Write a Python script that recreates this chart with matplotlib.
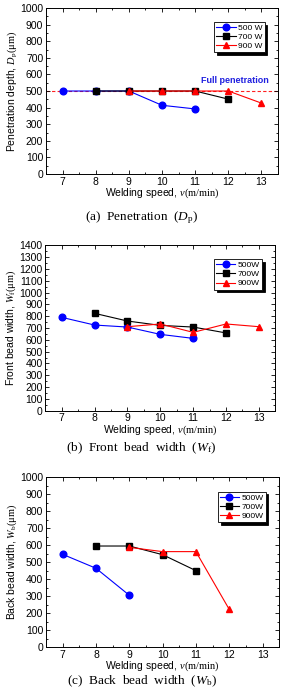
import matplotlib
matplotlib.use('Agg')
import matplotlib.pyplot as plt
from matplotlib.ticker import MultipleLocator

plt.rcParams['font.family'] = ['Liberation Sans', 'DejaVu Sans']
plt.rcParams['mathtext.fontset'] = 'custom'
plt.rcParams['mathtext.rm'] = 'Liberation Serif'
plt.rcParams['mathtext.it'] = 'Liberation Serif:italic'

powers = ['500W', '700W', '900W']
colors = ['#0000ff', '#000000', '#ff0000']
markers = ['o', 's', '^']

# (a) penetration depth
pen_x = [[7, 8, 9, 10, 11], [8, 9, 10, 11, 12], [9, 10, 11, 12, 13]]
pen_y = [[500, 500, 500, 414, 392], [500, 500, 500, 500, 451], [500, 500, 500, 500, 427]]
full_pen = 500

# (b) front bead width
front_x = [[7, 8, 9, 10, 11], [8, 9, 10, 11, 12], [9, 10, 11, 12, 13]]
front_y = [[790, 725, 708, 646, 612], [824, 759, 722, 708, 658], [711, 734, 663, 734, 711]]

# (c) back bead width
back_x = [[7, 8, 9], [8, 9, 10, 11], [9, 10, 11, 12]]
back_y = [[546, 464, 305], [595, 595, 544, 450], [587, 562, 562, 222]]

fig = plt.figure(figsize=(2.83, 6.90), dpi=100)

panels = [
    dict(pos=[0.1625, 0.7478, 0.82, 0.2406], xs=pen_x, ys=pen_y, ymax=1000,
         ylabel='Penetration depth, $\\mathit{D}_\\mathrm{p}$$\\mathrm{(μm)}$',
         caption='(a)  Penetration  ($\\mathit{D}_\\mathrm{p}$)', cap_y=0.684, cap_va='center',
         legend_labels=['500 W', '700 W', '900 W']),
    dict(pos=[0.160, 0.4048, 0.813, 0.2397], xs=front_x, ys=front_y, ymax=1400,
         ylabel='Front bead width, $\\mathit{W}_\\mathrm{f}$$\\mathrm{(μm)}$',
         caption='(b)  Front  bead  width  ($\\mathit{W}_\\mathrm{f}$)', cap_y=0.350, cap_va='center',
         legend_labels=powers),
    dict(pos=[0.1625, 0.0623, 0.824, 0.246], xs=back_x, ys=back_y, ymax=1000,
         ylabel='Back bead width, $\\mathit{W}_\\mathrm{b}$$\\mathrm{(μm)}$',
         caption='(c)  Back  bead  width  ($\\mathit{W}_\\mathrm{b}$)', cap_y=0.002, cap_va='bottom',
         legend_labels=powers),
]

for k, p in enumerate(panels):
    ax = fig.add_axes(p['pos'])
    if k == 0:
        ax.axhline(full_pen, color='#ff2020', ls='--', lw=0.8, dashes=(3, 2), zorder=1)
        ax.text(12.2, 566, 'Full penetration', color='#2020e0', fontsize=6.5,
                fontweight='bold', ha='center', va='center')
    for xs, ys, c, m, lab in zip(p['xs'], p['ys'], colors, markers, p['legend_labels']):
        ax.plot(xs, ys, color=c, marker=m, markersize=4.8, lw=0.8, label=lab,
                markeredgecolor=c, zorder=3)
    ax.set_xlim(6.5, 13.5)
    ax.set_ylim(0, p['ymax'])
    ax.xaxis.set_major_locator(MultipleLocator(1))
    ax.xaxis.set_minor_locator(MultipleLocator(0.5))
    ax.yaxis.set_major_locator(MultipleLocator(100))
    ax.yaxis.set_minor_locator(MultipleLocator(50))
    ax.tick_params(which='both', direction='in', top=True, right=True, labelsize=7.5,
                   width=0.6, pad=2)
    ax.tick_params(which='major', length=3)
    ax.tick_params(which='minor', length=1.5)
    for s in ax.spines.values():
        s.set_linewidth(0.7)
    ax.set_xlabel('Welding speed, $\\mathit{v}\\mathrm{(m/min)}$', fontsize=7.5, labelpad=0)
    ax.set_ylabel(p['ylabel'], fontsize=7.5, labelpad=1)
    leg = ax.legend(loc='upper right', fontsize=6, frameon=True, fancybox=False,
                    edgecolor='black', shadow={'color': 'black', 'alpha': 1},
                    borderpad=0.25, labelspacing=0.15, handlelength=2.3,
                    handletextpad=0.3, markerscale=1.0, bbox_to_anchor=(0.96, 0.94))
    leg.get_frame().set_linewidth(0.6)
    fig.text(0.5, p['cap_y'], p['caption'], ha='center', va=p['cap_va'], fontsize=9.5,
             family='Liberation Serif')

fig.savefig('out.png', dpi=100)
